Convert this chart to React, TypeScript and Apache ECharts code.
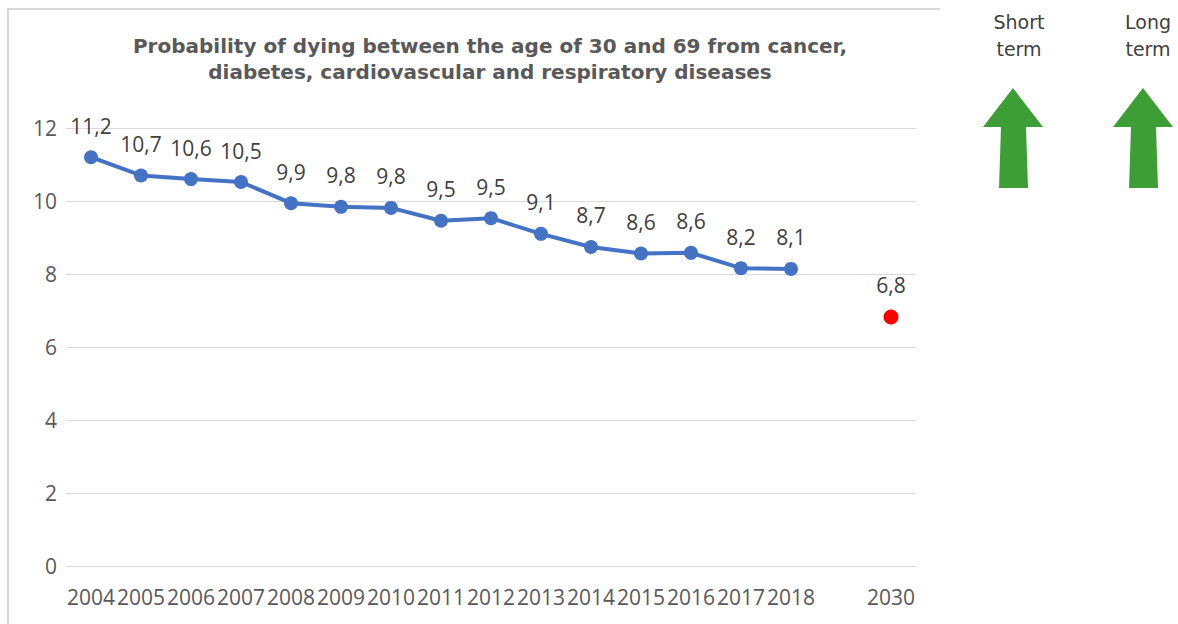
import React, { useEffect, useRef } from "react";
import * as echarts from "echarts";

const categories = ["2004","2005","2006","2007","2008","2009","2010","2011","2012","2013","2014","2015","2016","2017","2018","","2030"];
const observed: (number | string)[] = [11.2,10.7,10.6,10.52,9.94,9.84,9.81,9.46,9.53,9.1,8.74,8.56,8.58,8.16,8.14,"-","-"];
const target: (number | string)[] = ["-","-","-","-","-","-","-","-","-","-","-","-","-","-","-","-",6.82];
const yTicks = { min: 0, max: 12, interval: 2 };
const titleLines = ["Probability of dying between the age of 30 and 69 from cancer,", "diabetes, cardiovascular and respiratory diseases"];

const fmt = (p: any) => {
  const v = typeof p.value === "number" ? p.value : Number(p.value);
  return v.toFixed(1).replace(".", ",");
};

const green = "#3d9e35";

function arrow(cx: number) {
  return {
    type: "polygon",
    shape: {
      points: [
        [cx, 88],
        [cx + 30, 127],
        [cx + 13, 127],
        [cx + 15, 188],
        [cx - 14, 188],
        [cx - 12, 127],
        [cx - 30, 127],
      ],
    },
    style: { fill: green },
  };
}

export default function App() {
  const ref = useRef<HTMLDivElement>(null);
  useEffect(() => {
    if (!ref.current) return;
    const chart = echarts.init(ref.current, null, { renderer: "svg" });
    const font = "Open Sans";
    const fs = 21;
    const sideFont = "19px 'DejaVu Sans', sans-serif";
    const titleFont = "bold 20px 'DejaVu Sans', sans-serif";
    chart.setOption({
      animation: false,
      backgroundColor: "#ffffff",
      grid: { left: 66, right: 262, top: 128, bottom: 58, containLabel: false },
      xAxis: {
        type: "category",
        data: categories,
        boundaryGap: true,
        axisLine: { show: true, lineStyle: { color: "#d9d9d9", width: 1 } },
        axisTick: { show: false },
        axisLabel: { interval: 0, color: "#595959", fontSize: fs, fontFamily: font, margin: 20 },
      },
      yAxis: {
        type: "value",
        min: yTicks.min,
        max: yTicks.max,
        interval: yTicks.interval,
        axisLine: { show: false },
        axisTick: { show: false },
        splitLine: { lineStyle: { color: "#d9d9d9", width: 1 } },
        axisLabel: { color: "#595959", fontSize: fs, fontFamily: font, margin: 9 },
      },
      series: [
        {
          type: "line",
          data: observed,
          symbol: "circle",
          symbolSize: 14,
          lineStyle: { color: "#4472c4", width: 4 },
          itemStyle: { color: "#4472c4" },
          label: { show: true, position: "top", distance: 14, formatter: fmt, color: "#404040", fontSize: fs, fontFamily: font },
        },
        {
          type: "scatter",
          data: target,
          symbol: "circle",
          symbolSize: 15,
          itemStyle: { color: "#ff0000", opacity: 1 },
          label: { show: true, position: "top", distance: 14, formatter: fmt, color: "#404040", fontSize: fs, fontFamily: font },
        },
      ],
      graphic: [
        { type: "line", shape: { x1: 7, y1: 9, x2: 940, y2: 9 }, style: { stroke: "#d9d9d9", lineWidth: 2 } },
        { type: "line", shape: { x1: 8, y1: 8, x2: 8, y2: 624 }, style: { stroke: "#d9d9d9", lineWidth: 2 } },
        {
          type: "text", x: 490, y: 46,
          style: { text: titleLines[0], fill: "#595959", font: titleFont, textAlign: "center", textVerticalAlign: "middle" },
        },
        {
          type: "text", x: 490, y: 72,
          style: { text: titleLines[1], fill: "#595959", font: titleFont, textAlign: "center", textVerticalAlign: "middle" },
        },
        { type: "text", x: 1019, y: 22, style: { text: "Short", fill: "#404040", font: sideFont, textAlign: "center", textVerticalAlign: "middle" } },
        { type: "text", x: 1019, y: 49, style: { text: "term", fill: "#404040", font: sideFont, textAlign: "center", textVerticalAlign: "middle" } },
        { type: "text", x: 1148, y: 22, style: { text: "Long", fill: "#404040", font: sideFont, textAlign: "center", textVerticalAlign: "middle" } },
        { type: "text", x: 1148, y: 49, style: { text: "term", fill: "#404040", font: sideFont, textAlign: "center", textVerticalAlign: "middle" } },
        arrow(1013),
        arrow(1143),
      ],
    });
    return () => chart.dispose();
  }, []);
  return <div ref={ref} style={{ position: "fixed", left: 0, top: 0, width: 1178, height: 624 }} />;
}
